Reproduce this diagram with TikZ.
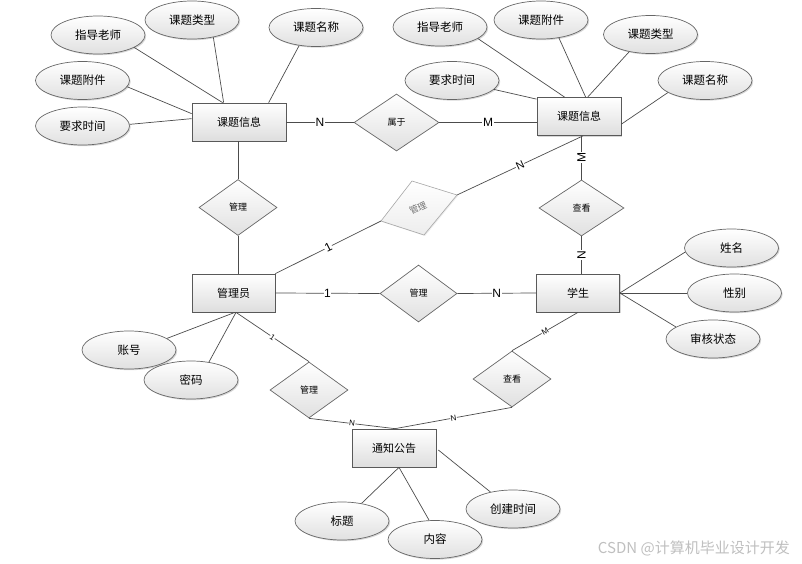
\documentclass[tikz,border=0pt]{standalone}
\usepackage{fontspec}
\setmainfont{Noto Sans CJK SC}
\newfontfamily\latf{Liberation Sans}
\usetikzlibrary{shapes.geometric,shadows,calc}
\begin{document}
\begin{tikzpicture}[x=1pt,y=-1pt,
  every node/.style={inner sep=0pt},
  shd/.style={drop shadow={shadow xshift=1.2pt, shadow yshift=-1.2pt, fill=black!35, opacity=0.45}},
  ent/.style={rectangle, draw=black!65, line width=0.7pt, top color=white, bottom color=black!13,
    minimum width=83pt, minimum height=38pt, font=\fontsize{11}{13}\selectfont, shd},
  attr/.style={ellipse, draw=black!60, line width=0.7pt, top color=white, bottom color=black!12,
    minimum width=94pt, minimum height=38pt, font=\fontsize{11.5}{13}\selectfont, shd},
  rel/.style={diamond, draw=black!60, line width=0.7pt, top color=white, bottom color=black!12,
    minimum width=78pt, minimum height=56pt, aspect=1.4, font=\fontsize{9}{10}\selectfont},
  ln/.style={draw=black!70, line width=0.7pt},
  card/.style={font=\latf\fontsize{12}{12}\selectfont, fill=white, inner sep=0.6pt},
  cards/.style={font=\latf\fontsize{8}{8}\selectfont, fill=white, inner sep=0.4pt},
]
\useasboundingbox (0,0) rectangle (802,564);

% entities
\node[ent, minimum width=94pt] (kA) at (239,122) {课题信息};
\node[ent, minimum width=84pt] (kB) at (579,116.5) {课题信息};
\node[ent] (gly) at (233.5,293) {管理员};
\node[ent] (st) at (578,293) {学生};
\node[ent, minimum width=84pt] (tz) at (394,448) {通知公告};

% relations
\node[rel, minimum width=85pt, minimum height=57pt] (sy) at (396.5,122.5) {属于};
\node[rel] (dL) at (238,207.5) {管理};
\node[rel, minimum width=85pt] (dV1) at (581.5,208) {查看};
\node[rel, minimum width=77pt, minimum height=57pt] (dM) at (418.5,293.5) {管理};
\node[rel] (dL2) at (309,390) {管理};
\node[rel] (dV2) at (512,379) {查看};

% gray relation
\coordinate (gT) at (412,181);
\coordinate (gR) at (457,195);
\coordinate (gB) at (424,235);
\coordinate (gL) at (381,221);
\fill[black!15, opacity=0.5] ([xshift=1pt,yshift=-1pt]gT) -- ([xshift=1pt,yshift=-1pt]gR) -- ([xshift=1pt,yshift=-1pt]gB) -- ([xshift=1pt,yshift=-1pt]gL) -- cycle;
\draw[draw=black!35, line width=0.6pt, top color=white, bottom color=black!7] (gT) -- (gR) -- (gB) -- (gL) -- cycle;
\node[font=\fontsize{9}{10}\selectfont, text=black!55, rotate=25] (gtx) at (418,208) {管理};

% attributes
\node[attr] (a1) at (98,35) {指导老师};
\node[attr] (a2) at (192,20) {课题类型};
\node[attr] (a3) at (316,27.5) {课题名称};
\node[attr] (a4) at (82.5,80.5) {课题附件};
\node[attr] (a5) at (82.5,126) {要求时间};
\node[attr] (b1) at (440,27) {指导老师};
\node[attr] (b2) at (541,20) {课题附件};
\node[attr] (b3) at (650.5,34.5) {课题类型};
\node[attr] (b4) at (705,80.5) {课题名称};
\node[attr] (b5) at (452,80.5) {要求时间};
\node[attr] (s1) at (731.5,248) {姓名};
\node[attr] (s2) at (734.5,293) {性别};
\node[attr] (s3) at (713,339) {审核状态};
\node[attr] (g1) at (129,350) {账号};
\node[attr] (g2) at (191,380) {密码};
\node[attr] (t1) at (342,521) {标题};
\node[attr] (t2) at (435,539.5) {内容};
\node[attr] (t3) at (513,509) {创建时间};

% attribute lines
\draw[ln] (a1.-19) -- ([xshift=31pt]kA.north west);
\draw[ln] (a2.-39) -- ([xshift=32pt]kA.north west);
\draw[ln] (a3.-133) -- ([xshift=77pt]kA.north west);
\draw[ln] (a4.-8) -- ([yshift=-11pt]kA.north west);
\draw[ln] (a5.2) -- ([yshift=-16pt]kA.north west);

\draw[ln] (b1.-17) -- ([xshift=28pt]kB.north west);
\draw[ln] (b2.-45) -- ([xshift=49pt]kB.north west);
\draw[ln] (b3.-141) -- ([xshift=51pt]kB.north west);
\draw[ln] (b4.-162) -- ([yshift=-27pt]kB.north east);
\draw[ln] (b5.-12) -- ([yshift=-2pt]kB.north west);

\draw[ln] (st.east) -- (s1.-175);
\draw[ln] (st.east) -- (s2.west);
\draw[ln] (st.east) -- (s3.162);

\draw[ln] ([xshift=1.5pt]gly.south) -- (g1.17);
\draw[ln] ([xshift=2.5pt]gly.south) -- (g2.45);

\draw[ln] ([xshift=5pt]tz.south) -- (t1.42);
\draw[ln] ([xshift=5pt]tz.south) -- (t2.107);
\draw[ln] ([xshift=2pt,yshift=-2pt]tz.east) -- (t3.143.5);

% relation lines
\draw[ln] (sy.west -| kA.east) -- node[card]{N} (sy.west);
\draw[ln] (sy.east) -- node[card]{M} (sy.east -| kB.west);

\draw[ln] (kA.south -| dL.north) -- (dL.north);
\draw[ln] (dL.south) -- (dL.south |- gly.north);

\draw[ln] ([xshift=4pt]kB.south) -- node[card, sloped, pos=0.5, font=\latf\fontsize{11}{11}\selectfont]{N} (gR);
\draw[ln] (gL) -- node[card, sloped]{1} (gly.north east);

\draw[ln] (dV1.north |- kB.south) -- node[card, rotate=90]{M} (dV1.north);
\draw[ln] (dV1.south) -- node[card, rotate=90]{N} (dV1.south |- st.north);

\draw[ln] (gly.east) -- node[card]{1} (dM.west);
\draw[ln] (dM.east) -- node[card]{N} (st.west);

\draw[ln] ([xshift=2.5pt]gly.south) -- node[cards, sloped]{1} (dL2.north);
\draw[ln] (dL2.south) -- node[cards, sloped]{N} ([xshift=1pt]tz.north);
\draw[ln] (st.south) -- node[cards, sloped]{M} (dV2.north);
\draw[ln] (dV2.south) -- node[cards, sloped]{N} ([xshift=1pt]tz.north);

% watermark
\node[font=\fontsize{15}{15}\selectfont, text=black!25, anchor=east] (wm) at (790,548) {CSDN @计算机毕业设计开发};
\end{tikzpicture}
\end{document}
